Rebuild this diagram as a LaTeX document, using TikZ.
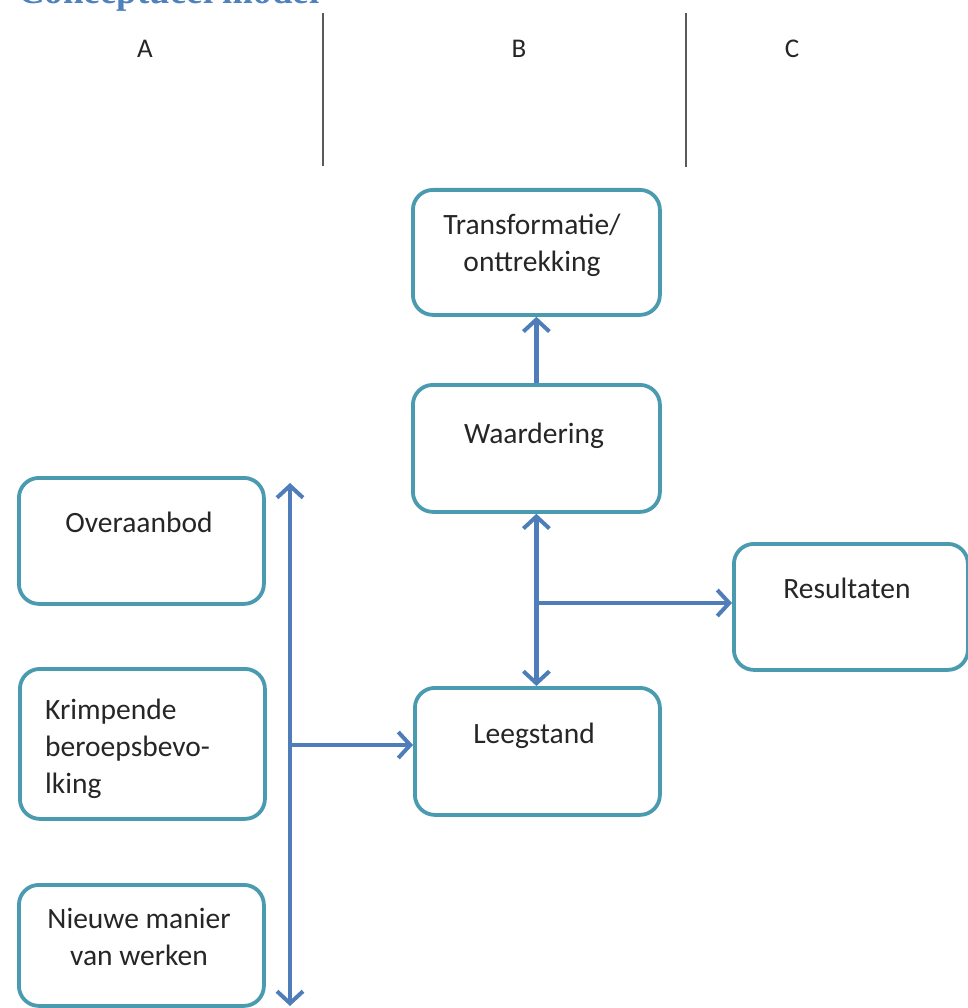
\documentclass[tikz,border=0pt]{standalone}
\usepackage{fontspec}
\setmainfont{Carlito}
\newfontfamily\titlefont{Liberation Serif}
\usetikzlibrary{arrows.meta}
\definecolor{boxcol}{RGB}{75,155,176}
\definecolor{arrcol}{RGB}{79,125,185}
\definecolor{titcol}{RGB}{79,129,189}
\definecolor{sepcol}{RGB}{90,90,90}
\begin{document}
\begin{tikzpicture}[x=1pt,y=-1pt,
  box/.style={draw=boxcol, line width=3.8pt, rounded corners=20pt, inner sep=0pt, anchor=north west, fill=white},
  lbl/.style={inner sep=0pt, anchor=base, font=\fontsize{29.5}{37}\selectfont, text=black!85},
  col/.style={inner sep=0pt, anchor=base, font=\fontsize{27}{32}\selectfont, text=black!85},
  sepline/.style={draw=sepcol, line width=1.4pt},
  tip/.tip={Straight Barb[length=12pt,width=26pt,line width=4pt]},
  arr/.style={draw=arrcol, line width=4.2pt, -tip},
  darr/.style={draw=arrcol, line width=4.2pt, tip-tip}
]
\useasboundingbox (0,0) rectangle (967,1008);

% title (cut off at top, as in the reference)
\node[inner sep=0pt, anchor=base west, text=titcol, font=\titlefont\bfseries\fontsize{37}{40}\selectfont] (title) at (18,4) {Conceptueel model};

% column labels and separators
\node[col] (colA) at (145,58) {A};
\node[col] (colB) at (519,58) {B};
\node[col] (colC) at (792,58) {C};
\coordinate (s1t) at (323,13); \coordinate (s1b) at (323,166);
\coordinate (s2t) at (686,13); \coordinate (s2b) at (686,167);
\draw[sepline] (s1t) -- (s1b);
\draw[sepline] (s2t) -- (s2b);

% boxes
\node[box, minimum width=247pt, minimum height=125pt] (trans) at (411,188) {};
\node[box, minimum width=247pt, minimum height=127pt] (waard) at (411,383) {};
\node[box, minimum width=245pt, minimum height=126pt] (over) at (17,476) {};
\node[box, minimum width=234pt, minimum height=126pt] (res) at (732,542) {};
\node[box, minimum width=245pt, minimum height=150pt] (krimp) at (18,667) {};
\node[box, minimum width=245pt, minimum height=127pt] (leeg) at (413,686) {};
\node[box, minimum width=245pt, minimum height=121pt] (nieuw) at (17,883) {};

% texts
\node[lbl] (transT) at (532,234) {\begin{tabular}[t]{@{}c@{}}Transformatie/\\onttrekking\end{tabular}};
\node[lbl] (waardT) at (534,443) {Waardering};
\node[lbl] (overT) at (139,532) {Overaanbod};
\node[lbl] (resT) at (847,598) {Resultaten};
\node[lbl, anchor=base west] (krimpT) at (45,719) {\begin{tabular}[t]{@{}l@{}}Krimpende\\beroepsbevo-\\lking\end{tabular}};
\node[lbl] (leegT) at (534,743) {Leegstand};
\node[lbl] (nieuwT) at (139,928) {\begin{tabular}[t]{@{}c@{}}Nieuwe manier\\van werken\end{tabular}};

% connectors
\coordinate (vtop) at (290,483);
\coordinate (vbot) at (290,1006);
\coordinate (vmid) at (290,745);
\coordinate (jn) at (535,603);
\draw[darr] (vtop) -- (vbot);
\draw[arr] (vmid) -- (leeg.west |- vmid);
\draw[arr] (waard.north) -- (trans.south);
\draw[darr] (waard.south) -- (waard.south |- leeg.north);
\draw[arr] (jn) -- (res.west |- jn);
\end{tikzpicture}
\end{document}
